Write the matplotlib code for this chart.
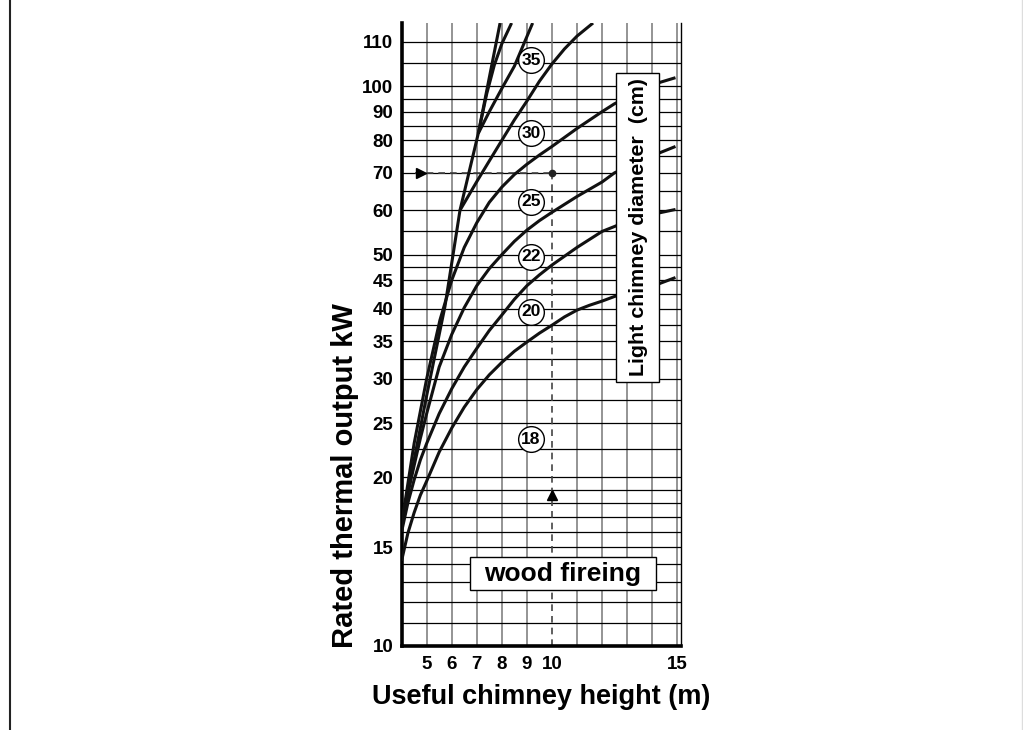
import matplotlib
matplotlib.use("Agg")
import matplotlib.pyplot as plt
from matplotlib.lines import Line2D
from matplotlib.patches import Rectangle

plt.rcParams['font.family'] = ['Liberation Sans', 'DejaVu Sans']

# ---- data ----
x_ticks = [5, 6, 7, 8, 9, 10, 15]
y_tick_pos = [10, 15, 20, 25, 30, 35, 40, 45, 50, 60, 70, 80, 90, 100, 120]
y_tick_lbl = ["10", "15", "20", "25", "30", "35", "40", "45", "50", "60", "70", "80", "90", "100", "110"]
h_grid = [11, 12, 13, 14, 15, 16, 17, 18, 19, 20, 22.5, 25, 27.5, 30, 32.5, 35, 37.5, 40,
          42.5, 45, 47.5, 50, 55, 60, 65, 70, 75, 80, 85, 90, 95, 100, 110, 120]
v_grid = [5, 6, 7, 8, 9, 11, 12, 13, 14, 15]

c1_x = [4.0, 4.25, 4.5, 4.75, 5.0, 5.5, 6.0, 6.5, 7.0, 7.5, 8.0, 8.5, 9.0, 9.5, 10.0, 10.5,
        11.0, 11.5, 12.0, 12.5, 14.3, 14.93]
c1_y = [14.2, 15.9, 17.3, 18.6, 19.7, 22.2, 24.5, 26.7, 28.7, 30.5, 32.1, 33.6, 34.9, 36.2,
        37.4, 38.7, 39.8, 40.6, 41.3, 42.1, 44.4, 45.5]
c2_x = [4.0, 4.25, 4.5, 4.75, 5.0, 5.5, 6.0, 6.5, 7.0, 7.5, 8.0, 8.5, 9.0, 9.5, 10.0, 11.0,
        12.0, 13.0, 14.0, 14.93]
c2_y = [16.0, 18.0, 19.8, 21.5, 23.0, 26.0, 28.8, 31.5, 34.0, 36.6, 39.0, 41.6, 44.0, 46.0,
        47.9, 51.5, 55.0, 57.3, 59.0, 60.2]
c3_x = [4.0, 4.25, 4.5, 4.75, 5.0, 5.5, 6.0, 6.5, 7.0, 7.5, 8.0, 8.5, 9.0, 9.5, 10.0, 11.0,
        12.0, 12.5, 14.3, 14.93]
c3_y = [16.3, 18.7, 21.0, 23.5, 26.0, 31.5, 36.0, 40.2, 44.0, 47.2, 50.0, 52.8, 55.3, 57.5,
        59.5, 63.5, 67.4, 70.0, 76.0, 78.0]
c4_x = [4.0, 4.5, 5.0, 5.53, 6.0, 6.5, 7.0, 7.5, 8.0, 8.5, 9.0, 9.5, 10.0, 11.0, 12.0, 12.5,
        14.3, 14.93]
c4_y = [16.5, 23.0, 30.0, 38.2, 45.0, 51.5, 57.0, 62.0, 66.0, 69.5, 72.5, 75.3, 78.0, 84.0,
        90.0, 93.0, 101.5, 103.5]
c5_x = [6.33, 7.0, 7.5, 8.0, 8.5, 9.0, 9.5, 10.0, 10.5, 11.0, 11.64]
c5_y = [60.0, 67.5, 73.5, 80.0, 87.0, 94.0, 102.0, 109.5, 116.5, 122.8, 129.6]
c6_x = [7.06, 7.5, 8.0, 8.5, 9.23]
c6_y = [82.3, 90.0, 99.0, 108.5, 129.6]
c7_x = [7.06, 7.4, 7.7, 8.0, 8.39]
c7_y = [82.3, 97.0, 109.0, 119.0, 129.6]
c8_x = [4.0, 4.5, 5.0, 5.73, 6.33, 7.06, 7.93]
c8_y = [16.6, 21.5, 28.0, 40.4, 60.0, 82.3, 129.6]

circle_lbl = ["35", "30", "25", "22", "20", "18"]
circle_x = [9.16, 9.16, 9.16, 9.16, 9.16, 9.16]
circle_y = [111.3, 82.3, 62.1, 49.6, 39.5, 23.4]

W, H = 1023, 730
fig = plt.figure(figsize=(W / 100, H / 100), dpi=100)
ax = fig.add_axes([401.6 / W, 84 / H, (681 - 401.6) / W, (646 - 23) / H])
ax.set_yscale('log')
ax.set_xlim(4.0, 15.15)
ax.set_ylim(10, 129.6)

for v in v_grid:
    ax.axvline(v, color='#777777', lw=1.1, zorder=1)
for h in h_grid:
    ax.axhline(h, color='black', lw=0.9, zorder=1)

for cx, cy in [(c1_x, c1_y), (c2_x, c2_y), (c3_x, c3_y), (c4_x, c4_y),
               (c5_x, c5_y), (c6_x, c6_y), (c7_x, c7_y), (c8_x, c8_y)]:
    ax.plot(cx, cy, color='#111111', lw=2.2, zorder=3, solid_capstyle='butt',
            solid_joinstyle='round')

# example dashed path
ax.plot([4.55, 10], [70, 70], color='#444444', lw=1.2, ls=(0, (4, 3)), zorder=2)
ax.plot([10, 10], [10, 70], color='#444444', lw=1.2, ls=(0, (4, 3)), zorder=2)
ax.axvline(10, ymin=0.7596, color='#777777', lw=1.1, zorder=1)
ax.plot([10], [70], 'o', color='#222222', ms=4.5, zorder=4)
ax.plot([4.77], [70], '>', color='black', ms=7, zorder=4)
ax.plot([10], [18.6], '^', color='black', ms=7, zorder=4)

# circled labels
ax.plot(circle_x, circle_y, 'o', ms=18.5, mfc='white', mec='black', mew=1.0, ls='none', zorder=5)
for t, cx, cy in zip(circle_lbl, circle_x, circle_y):
    ax.text(cx, cy, t, ha='center', va='center', fontsize=12.5, fontweight='bold', zorder=6)

# boxes
ax.add_patch(Rectangle((6.73, 12.59), 14.15 - 6.73, 14.44 - 12.59, fc='white', ec='black',
                       lw=1.0, zorder=5))
ax.text(10.44, 13.45, "wood fireing", ha='center', va='center', fontsize=19, fontweight='bold',
        zorder=6)
ax.add_patch(Rectangle((12.556, 29.6), 14.284 - 12.556, 105.5 - 29.6, fc='white', ec='black',
                       lw=1.0, zorder=5))
ax.text(13.45, 55.9, "Light chimney diameter  (cm)", ha='center', va='center', rotation=90,
        fontsize=15.4, fontweight='bold', zorder=6)

ax.set_xticks(x_ticks)
ax.set_xticklabels([str(v) for v in x_ticks], fontsize=13.5, fontweight='bold')
ax.set_yticks(y_tick_pos)
ax.set_yticklabels(y_tick_lbl, fontsize=13.5, fontweight='bold')
ax.yaxis.set_minor_locator(matplotlib.ticker.NullLocator())
ax.tick_params(axis='y', length=0, pad=6)
ax.tick_params(axis='x', length=0, pad=7)
ax.spines['top'].set_visible(False)
ax.spines['left'].set_linewidth(2.6)
ax.spines['bottom'].set_linewidth(2.6)
ax.spines['right'].set_linewidth(1.0)

fig.text(541 / W, 1 - 697 / H, "Useful chimney height (m)", ha='center', va='center',
         fontsize=19.5, fontweight='bold')
fig.text(345 / W, 1 - 476 / H, "Rated thermal output kW", ha='center', va='center',
         rotation=90, fontsize=21, fontweight='bold')

fig.add_artist(Line2D([10 / W, 10 / W], [0, 1], color='#222222', lw=1.5))
fig.add_artist(Line2D([1022 / W, 1022 / W], [0, 1], color='#dddddd', lw=1.0))

fig.savefig("out.png", dpi=100)
